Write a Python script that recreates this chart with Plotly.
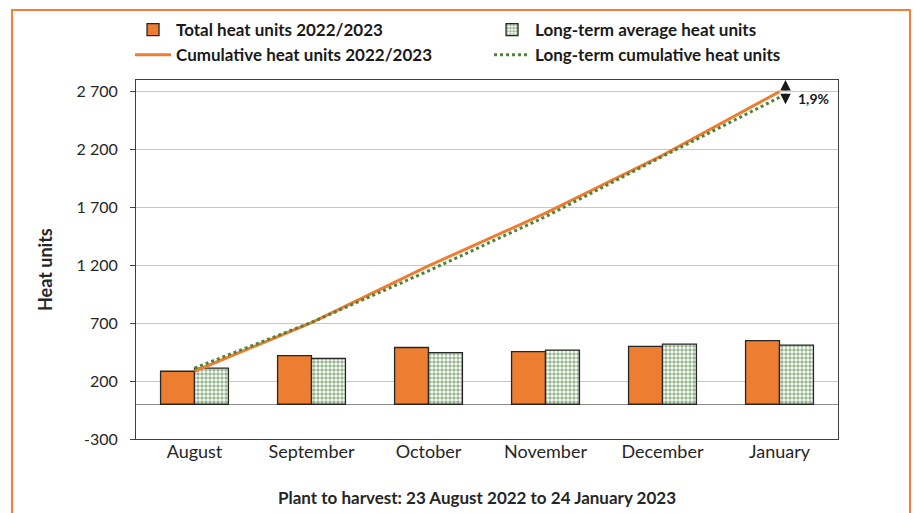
import plotly.graph_objects as go

months = ["August", "September", "October", "November", "December", "January"]
total_2223 = [285, 420, 490, 455, 500, 550]
longterm_avg = [312, 395, 445, 468, 520, 510]

# running totals across the season
cum_2223 = []
cum_lt = []
s1 = s2 = 0
for a, b in zip(total_2223, longterm_avg):
    s1 += a
    s2 += b
    cum_2223.append(s1)
    cum_lt.append(s2)

pct_diff = (cum_2223[-1] / cum_lt[-1] - 1) * 100
pct_label = f"{pct_diff:.1f}%".replace(".", ",")

y_ticks = [-300, 200, 700, 1200, 1700, 2200, 2700]
y_ticktext = [f"{v:,}".replace(",", " ") for v in y_ticks]

FONT = "Lato, 'Open Sans', sans-serif"
ORANGE = "#ED7D31"
GREEN = "#2F6E22"
EDGE = "#262626"

fig = go.Figure()
fig.add_trace(go.Bar(
    x=months, y=total_2223, name="<b>Total heat units 2022/2023</b>",
    marker=dict(color=ORANGE, line=dict(color=EDGE, width=1.3)),
))
fig.add_trace(go.Bar(
    x=months, y=longterm_avg, name="<b>Long-term average heat units</b>",
    marker=dict(color="white", line=dict(color=EDGE, width=1.3),
                pattern=dict(shape=".", fgcolor=GREEN, bgcolor="white",
                             size=4, solidity=0.6)),
))
fig.add_trace(go.Scatter(
    x=months, y=cum_2223, name="<b>Cumulative heat units 2022/2023</b>",
    mode="lines", line=dict(color=ORANGE, width=3),
))
fig.add_trace(go.Scatter(
    x=months, y=cum_lt, name="<b>Long-term cumulative heat units</b>",
    mode="lines", line=dict(color="#548235", width=3, dash="dot"),
))

# double-headed marker and percentage at the season end
fig.add_annotation(x=months[-1], y=2800, xref="x", yref="y", xshift=6,
                   text="", showarrow=True, ax=0, ay=12, arrowhead=2,
                   arrowsize=1.4, arrowwidth=1.5, arrowcolor="#1a1a1a")
fig.add_annotation(x=months[-1], y=2590, xref="x", yref="y", xshift=6,
                   text="", showarrow=True, ax=0, ay=-12, arrowhead=2,
                   arrowsize=1.4, arrowwidth=1.5, arrowcolor="#1a1a1a")
fig.add_annotation(x=months[-1], y=2640, xref="x", yref="y", xshift=34,
                   text=f"<b>{pct_label}</b>", showarrow=False,
                   font=dict(size=14, color="#1a1a1a", family=FONT))

# axis titles
fig.add_annotation(x=-0.1296, y=0.4708, xref="paper", yref="paper",
                   xanchor="center", yanchor="middle",
                   text="<b>Heat units</b>", textangle=-90, showarrow=False,
                   font=dict(size=18, color="#262626", family=FONT))
fig.add_annotation(x=0.4858, y=-0.1616, xref="paper", yref="paper",
                   xanchor="center", yanchor="middle",
                   text="<b>Plant to harvest: 23 August 2022 to 24 January 2023</b>",
                   showarrow=False,
                   font=dict(size=17, color="#262626", family=FONT))

# orange frame around the whole chart
fig.add_shape(type="rect", xref="paper", yref="paper",
              x0=-0.1766, x1=1.1026, y0=-0.3, y1=1.195,
              line=dict(color="#F07F3C", width=2), fillcolor="rgba(0,0,0,0)",
              layer="below")

fig.update_layout(
    width=914, height=513,
    margin=dict(l=136, r=76, t=80, b=74, autoexpand=False),
    paper_bgcolor="white", plot_bgcolor="white",
    font=dict(family=FONT, size=18, color="#262626"),
    barmode="group", bargap=0.42, bargroupgap=0,
    showlegend=True,
    legend=dict(orientation="h", xref="paper", yref="paper",
                x=-0.0085, y=1.189, xanchor="left", yanchor="top",
                entrywidth=308, entrywidthmode="pixels",
                bgcolor="rgba(0,0,0,0)",
                font=dict(size=17, family=FONT, color="#1a1a1a"),
                traceorder="normal", itemwidth=36),
    xaxis=dict(showline=True, mirror=True, linecolor="#404040", linewidth=1,
               showgrid=False, ticks="", tickfont=dict(size=18),
               ticklabelstandoff=-4),
    yaxis=dict(range=[-300, 2800], tickvals=y_ticks, ticktext=y_ticktext,
               showgrid=True, gridcolor="#C8C8C8", gridwidth=1,
               zeroline=True, zerolinecolor="#8C8C8C", zerolinewidth=1,
               showline=True, mirror=True, linecolor="#404040", linewidth=1,
               ticks="outside", ticklen=5, tickcolor="#404040",
               tickfont=dict(size=16), ticklabelstandoff=9),
)

fig.write_html("out.html")
